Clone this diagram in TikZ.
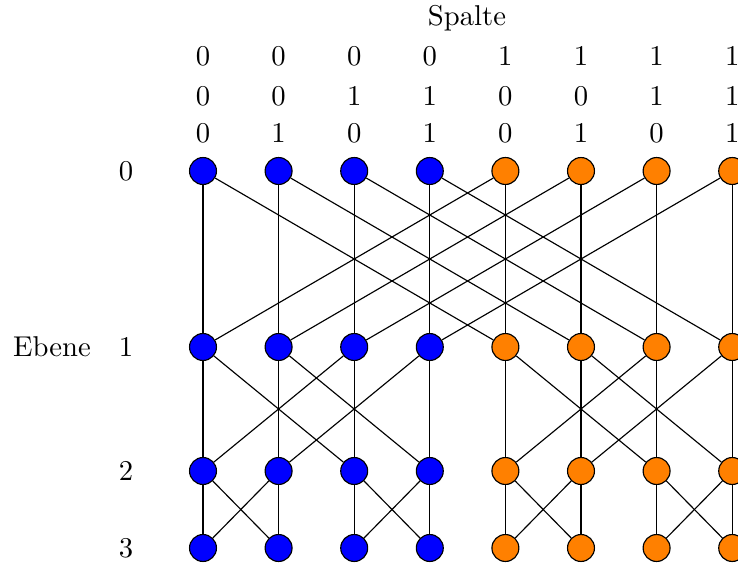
\documentclass[tikz,border=0pt]{standalone}
\usepackage{tikz}

\begin{document}
\begin{tikzpicture}[
    x=0.349pt, y=-0.349pt,
    blauknoten/.style={circle, minimum size=9.4pt, inner sep=0pt, draw=black, fill=blue},
    orangeknoten/.style={circle, minimum size=9.4pt, inner sep=0pt, draw=black, fill=orange},
    kante/.style={black}
]
\useasboundingbox (0,0) rectangle (738,564);

% Beschriftung
\node (spalte) at (467,18) {Spalte};
\node (ebene) at (52,347) {Ebene};
\foreach \e/\y in {0/171,1/347,2/471,3/548}
    \node (lab\e) at (126,\y) {\e};

% Bits der Spalten
\foreach \s in {0,...,7} {
    \pgfmathsetmacro{\x}{203+75.6*\s}
    \pgfmathtruncatemacro{\ba}{div(\s,4)}
    \pgfmathtruncatemacro{\bb}{mod(div(\s,2),2)}
    \pgfmathtruncatemacro{\bc}{mod(\s,2)}
    \node (bita\s) at (\x,56) {\ba};
    \node (bitb\s) at (\x,96) {\bb};
    \node (bitc\s) at (\x,133) {\bc};
}

% Knoten
\foreach \e/\y in {0/171,1/347,2/471,3/548} {
    \foreach \s in {0,...,3}
        \node (n\e\s) [blauknoten] at (203+75.6*\s,\y) {};
    \foreach \s in {4,...,7}
        \node (n\e\s) [orangeknoten] at (203+75.6*\s,\y) {};
}

% Kanten
\foreach \e/\m in {0/4,1/2,2/1} {
    \pgfmathtruncatemacro{\f}{\e+1}
    \foreach \s in {0,...,7} {
        \pgfmathtruncatemacro{\t}{mod(div(\s,\m),2)==0 ? \s+\m : \s-\m}
        \draw [kante] (n\e\s) -- (n\f\s);
        \draw [kante] (n\e\s) -- (n\f\t);
    }
}

\end{tikzpicture}
\end{document}
